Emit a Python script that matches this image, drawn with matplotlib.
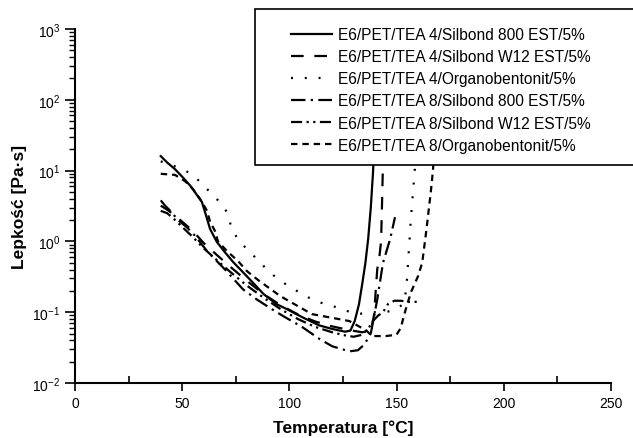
import matplotlib
matplotlib.use("Agg")
import matplotlib.pyplot as plt
from matplotlib.patches import Rectangle
from matplotlib.ticker import LogLocator, MultipleLocator, NullFormatter

plt.rcParams['font.family'] = ['Liberation Sans', 'DejaVu Sans']
plt.rcParams['mathtext.fontset'] = 'custom'
plt.rcParams['mathtext.rm'] = 'Liberation Sans'
plt.rcParams['mathtext.it'] = 'Liberation Sans:italic'
plt.rcParams['mathtext.bf'] = 'Liberation Sans:bold'

labels = [
    "E6/PET/TEA 4/Silbond 800 EST/5%",
    "E6/PET/TEA 4/Silbond W12 EST/5%",
    "E6/PET/TEA 4/Organobentonit/5%",
    "E6/PET/TEA 8/Silbond 800 EST/5%",
    "E6/PET/TEA 8/Silbond W12 EST/5%",
    "E6/PET/TEA 8/Organobentonit/5%",
]

# A4 / Silbond 800 (solid)
t1 = [40, 43, 46.6, 50, 54, 59.2, 61, 63, 66.2, 70, 73.8, 81.6, 88, 94, 99, 106, 114, 120, 126, 128.5,
      130.5, 132.5, 134, 135.5, 136.8, 138, 139, 140, 141, 142]
v1 = [16, 13, 10.5, 8.2, 6, 3.6, 2.4, 1.5, 0.98, 0.7, 0.51, 0.29, 0.18, 0.13, 0.11, 0.085, 0.065, 0.058, 0.053, 0.055,
      0.075, 0.13, 0.25, 0.5, 1.1, 3, 9, 40, 200, 1000]

# A4 / Silbond W12 (long dash)
t2 = [40, 43, 46, 50, 55, 60, 66, 72, 80, 88, 96, 104, 112, 120, 128, 134, 138, 139.5, 140.3, 141, 142, 142.8,
      143.2, 143.6, 144.2, 145]
v2 = [3.2, 2.8, 2.4, 1.9, 1.4, 0.95, 0.65, 0.45, 0.28, 0.18, 0.125, 0.093, 0.074, 0.063, 0.056, 0.052, 0.055, 0.09,
      0.2, 0.4, 0.6, 1.0, 3, 10, 50, 1000]

# A4 / Organobentonit (dotted)
t3 = [40, 45, 50, 55, 60.6, 66.7, 70.9, 72.8, 76, 82.6, 88.6, 94.7, 101.2, 107.3, 113.3, 120.3, 126.9, 132, 138.5,
      145, 150, 153, 154.5, 155.3, 156.7, 158.6, 160, 161.5]
v3 = [13.5, 12, 10.5, 8.7, 5.9, 3.8, 2.6, 1.65, 1.05, 0.66, 0.43, 0.29, 0.22, 0.17, 0.14, 0.122, 0.104, 0.094, 0.1,
      0.1, 0.11, 0.13, 0.2, 0.45, 2.07, 11, 60, 1000]

# A8 / Silbond 800 (dash-dot)
t4 = [40, 42, 45, 48, 52, 56, 61.6, 70, 78.4, 85, 91.9, 98, 105.9, 114, 120, 128, 132, 135, 138, 141, 143.7, 147, 149.3]
v4 = [3.8, 3.2, 2.6, 2.0, 1.6, 1.2, 0.73, 0.4, 0.21, 0.15, 0.11, 0.085, 0.062, 0.042, 0.033, 0.028, 0.029, 0.035,
      0.05, 0.15, 0.5, 1.07, 2.2]

# A8 / Silbond W12 (dash-dot-dot)
t5 = [40, 43, 46, 50, 55, 60, 66, 72, 80, 88, 96, 104, 112, 120, 126, 130, 134, 137, 139, 141.5, 143.7, 146, 149,
      152, 156, 160]
v5 = [2.7, 2.5, 2.1, 1.6, 1.15, 0.8, 0.55, 0.38, 0.24, 0.16, 0.11, 0.08, 0.062, 0.052, 0.047, 0.045, 0.048, 0.06,
      0.075, 0.09, 0.1, 0.13, 0.145, 0.145, 0.14, 0.14]

# A8 / Organobentonit (short dash)
t6 = [40, 46.6, 51.3, 55, 58.3, 61.6, 63, 65.3, 66.7, 70.9, 76, 80.2, 85.4, 95.6, 110.5, 128, 136, 138.5, 145, 150,
      152, 153.5, 155, 157, 160, 162, 164, 166, 167, 168, 169.5, 170.5]
v6 = [9, 8.7, 7.1, 5.5, 4.0, 2.7, 1.9, 1.4, 1.0, 0.73, 0.53, 0.38, 0.285, 0.17, 0.094, 0.075, 0.055, 0.046, 0.046,
      0.048, 0.06, 0.09, 0.13, 0.2, 0.32, 0.5, 1.5, 5, 10, 30, 200, 1000]

series = [(t1, v1), (t2, v2), (t3, v3), (t4, v4), (t5, v5), (t6, v6)]
styles = [
    '-',
    (0, (5.7, 4.8)),
    (0, (0.9, 5.3)),
    (0, (6.5, 2.4, 1.0, 2.4)),
    (0, (5.0, 2.0, 1.0, 2.0, 1.0, 2.0)),
    (0, (2.9, 2.2)),
]

fig = plt.figure(figsize=(6.33, 4.39), dpi=100)
ax = fig.add_axes([0.1185, 0.1253, 0.8465, 0.8064])

handles = []
for (t, v), ls, lab in zip(series, styles, labels):
    h, = ax.plot(t, v, color='black', lw=1.6, linestyle=ls, label=lab)
    handles.append(h)

ax.set_yscale('log')
ax.set_xlim(0, 250)
ax.set_ylim(1e-2, 1e3)
ax.xaxis.set_major_locator(MultipleLocator(50))
ax.xaxis.set_minor_locator(MultipleLocator(25))
ax.yaxis.set_major_locator(LogLocator(base=10, numticks=10))
ax.yaxis.set_minor_locator(LogLocator(base=10, subs=range(2, 10), numticks=20))
ax.yaxis.set_minor_formatter(NullFormatter())

for s in ['top', 'right']:
    ax.spines[s].set_visible(False)
for s in ['left', 'bottom']:
    ax.spines[s].set_linewidth(1.5)

ax.tick_params(axis='x', which='major', direction='out', length=6, width=1.2, labelsize=10)
ax.tick_params(axis='x', which='minor', direction='in', length=5, width=1.2)
ax.tick_params(axis='y', which='major', direction='out', length=7, width=1.2, labelsize=10)
ax.tick_params(axis='y', which='minor', direction='out', length=4, width=1.0)

ax.set_xlabel("Temperatura [°C]", fontsize=12.5, fontweight='bold', labelpad=7)
ax.set_ylabel("Lepkość [Pa·s]", fontsize=12.5, fontweight='bold', labelpad=4)

# legend box (extends beyond the right edge)
rect = Rectangle((255 / 633, 1 - 166 / 439), 400 / 633, 156 / 439, transform=fig.transFigure,
                 facecolor='white', edgecolor='black', lw=1.2, zorder=5)
fig.add_artist(rect)
leg = fig.legend(handles=handles, labels=labels, loc='upper left',
                 bbox_to_anchor=(291 / 633, 1 - 28 / 439), frameon=False, fontsize=11.2,
                 handlelength=2.65, handletextpad=0.4, labelspacing=0.46, borderpad=0, borderaxespad=0)
leg.set_zorder(6)

fig.savefig("out.png", dpi=100)
